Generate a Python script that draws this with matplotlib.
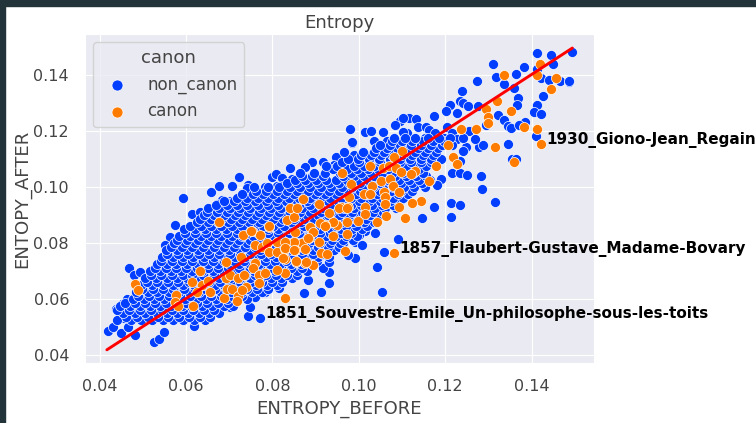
import matplotlib
matplotlib.use('Agg')
import matplotlib.pyplot as plt
from matplotlib.patches import Rectangle
import seaborn as sns

# Data ------------------------------------------------------------------------

# Dense part of the cloud, one row per ENTROPY_AFTER level

non_canon_rows = [
    (0.0525, [.0440, .0472, .0497, .0521, .0548, .0571, .0594, .0618, .0643]),
    (0.0538, [.0462, .0487, .0511, .0536, .0559, .0583, .0607, .0632, .0656]),
    (0.0550, [.0455, .0482, .0506, .0533, .0555, .0579, .0604, .0629, .0653, .0676]),
    (0.0563, [.0441, .0469, .0494, .0519, .0544, .0568, .0592, .0616, .0641, .0665]),
    (0.0575, [.0447, .0470, .0493, .0516, .0541, .0566, .0591, .0612, .0637, .0661, .0687, .0709]),
    (0.0588, [.0459, .0482, .0506, .0529, .0553, .0578, .0601, .0626, .0649, .0674, .0698]),
    (0.0600, [.0478, .0502, .0526, .0549, .0574, .0598, .0623, .0647, .0670, .0695, .0719, .0741]),
    (0.0612, [.0490, .0514, .0537, .0561, .0586, .0610, .0635, .0658, .0682, .0707, .0730]),
    (0.0625, [.0485, .0511, .0534, .0560, .0583, .0608, .0631, .0657, .0680, .0704, .0729, .0752, .0776]),
    (0.0638, [.0499, .0523, .0547, .0571, .0595, .0620, .0644, .0668, .0692, .0716, .0741, .0764, .0789]),
    (0.0650, [.0497, .0522, .0546, .0569, .0593, .0619, .0642, .0667, .0689, .0714, .0738, .0763, .0787, .0810]),
    (0.0663, [.0509, .0534, .0558, .0581, .0606, .0630, .0654, .0678, .0702, .0726, .0751, .0775, .0799, .0823]),
    (0.0675, [.0505, .0531, .0555, .0580, .0603, .0628, .0652, .0676, .0701, .0724, .0749, .0773, .0797, .0821, .0846]),
    (0.0688, [.0519, .0543, .0567, .0592, .0615, .0640, .0664, .0688, .0712, .0736, .0760, .0785, .0809, .0833, .0857]),
    (0.0700, [.0516, .0541, .0566, .0589, .0614, .0638, .0663, .0686, .0711, .0735, .0758, .0783, .0807, .0831, .0856, .0880]),
    (0.0712, [.0528, .0553, .0577, .0601, .0626, .0650, .0674, .0698, .0723, .0747, .0771, .0795, .0819, .0843, .0868]),
    (0.0725, [.0532, .0555, .0578, .0602, .0627, .0650, .0674, .0699, .0722, .0747, .0770, .0795, .0818, .0843, .0866, .0892]),
    (0.0737, [.0543, .0567, .0591, .0615, .0639, .0663, .0687, .0711, .0735, .0759, .0783, .0807, .0831, .0855, .0879, .0903]),
    (0.0750, [.0545, .0569, .0592, .0617, .0641, .0664, .0689, .0713, .0736, .0761, .0785, .0808, .0833, .0857, .0880, .0905, .0931]),
    (0.0763, [.0557, .0581, .0605, .0629, .0653, .0677, .0701, .0725, .0749, .0773, .0797, .0821, .0845, .0869, .0893, .0917]),
    (0.0775, [.0553, .0580, .0603, .0628, .0652, .0676, .0699, .0724, .0748, .0772, .0797, .0820, .0844, .0868, .0893, .0917, .0942]),
    (0.0788, [.0566, .0591, .0615, .0640, .0664, .0688, .0711, .0736, .0760, .0784, .0809, .0832, .0856, .0880, .0905, .0929, .0953]),
    (0.0800, [.0572, .0597, .0620, .0645, .0669, .0692, .0716, .0741, .0765, .0788, .0813, .0837, .0860, .0885, .0910, .0933, .0957]),
    (0.0813, [.0579, .0603, .0627, .0651, .0675, .0699, .0723, .0747, .0771, .0795, .0819, .0843, .0867, .0891, .0915, .0939, .0963, .0987]),
    (0.0825, [.0585, .0610, .0634, .0658, .0682, .0707, .0730, .0755, .0779, .0803, .0826, .0851, .0875, .0899, .0924, .0947, .0970, .0995]),
    (0.0838, [.0598, .0622, .0646, .0670, .0694, .0718, .0742, .0766, .0790, .0814, .0838, .0862, .0886, .0910, .0934, .0958, .0982]),
    (0.0850, [.0596, .0621, .0645, .0669, .0693, .0718, .0742, .0765, .0790, .0814, .0838, .0862, .0887, .0910, .0935, .0958, .0983, .1008]),
    (0.0863, [.0610, .0634, .0658, .0682, .0706, .0730, .0754, .0778, .0802, .0826, .0850, .0874, .0898, .0922, .0946, .0970, .0994, .1018]),
    (0.0875, [.0625, .0650, .0673, .0698, .0722, .0745, .0770, .0794, .0818, .0842, .0866, .0890, .0914, .0938, .0962, .0987, .1011, .1034]),
    (0.0888, [.0633, .0657, .0681, .0705, .0729, .0753, .0777, .0801, .0825, .0849, .0873, .0897, .0921, .0945, .0969, .0993, .1017, .1041]),
    (0.0900, [.0641, .0664, .0689, .0713, .0737, .0761, .0785, .0809, .0832, .0857, .0881, .0905, .0929, .0954, .0977, .1001, .1026, .1049]),
    (0.0913, [.0648, .0672, .0696, .0720, .0744, .0768, .0792, .0816, .0840, .0864, .0888, .0912, .0936, .0960, .0984, .1008, .1032, .1056]),
    (0.0925, [.0652, .0677, .0701, .0725, .0749, .0773, .0797, .0821, .0845, .0869, .0893, .0917, .0941, .0965, .0989, .1013, .1037, .1061, .1086]),
    (0.0938, [.0670, .0694, .0718, .0742, .0766, .0790, .0814, .0838, .0862, .0886, .0910, .0934, .0958, .0982, .1006, .1030, .1054, .1078]),
    (0.0950, [.0688, .0712, .0736, .0760, .0784, .0808, .0832, .0856, .0880, .0904, .0928, .0952, .0976, .1000, .1024, .1048, .1072, .1096]),
    (0.0963, [.0718, .0742, .0766, .0790, .0814, .0838, .0862, .0886, .0910, .0934, .0958, .0982, .1006, .1030, .1054, .1078, .1102]),
    (0.0975, [.0730, .0754, .0778, .0802, .0826, .0850, .0874, .0898, .0922, .0946, .0970, .0994, .1018, .1042, .1066, .1090, .1114]),
    (0.0988, [.0762, .0786, .0810, .0834, .0858, .0882, .0906, .0930, .0954, .0978, .1002, .1026, .1050, .1074, .1098, .1122]),
    (0.1000, [.0757, .0789, .0816, .0840, .0864, .0888, .0912, .0936, .0960, .0984, .1008, .1032, .1056, .1080, .1104, .1128, .1152]),
    (0.1013, [.0834, .0858, .0882, .0906, .0930, .0954, .0978, .1002, .1026, .1050, .1074, .1098, .1122, .1146]),
    (0.1025, [.0852, .0876, .0900, .0924, .0948, .0972, .0996, .1020, .1044, .1068, .1092, .1116, .1140, .1164]),
    (0.1038, [.0868, .0892, .0916, .0964, .0988, .1012, .1036, .1060, .1084, .1108, .1132, .1156]),
    (0.1050, [.0864, .0896, .0921, .0957, .0981, .1005, .1029, .1053, .1077, .1101, .1125, .1149]),
    (0.1063, [.0940, .0972, .0996, .1020, .1044, .1068, .1092, .1116, .1140]),
    (0.1075, [.0925, .0950, .0988, .1012, .1036, .1060, .1084, .1108, .1132, .1156]),
    (0.1088, [.0962, .1000, .1024, .1048, .1072, .1096, .1120, .1144, .1168]),
    (0.1100, [.0975, .0999, .1023, .1047, .1071, .1095, .1119, .1143, .1167, .1191]),
    (0.1113, [.1004, .1028, .1052, .1076, .1100, .1124, .1148, .1172]),
    (0.1125, [.0965, .1010, .1034, .1058, .1082, .1106, .1130, .1154, .1178]),
    (0.1138, [.1040, .1064, .1088, .1112, .1136, .1160, .1184]),
    (0.1150, [.1048, .1072, .1096, .1120, .1144, .1168, .1192, .1216]),
    (0.1163, [.1076, .1100, .1124, .1148, .1172, .1198]),
    (0.1175, [.1082, .1106, .1130, .1160, .1186, .1210, .1240]),
]

# Single points around the edge of the cloud

non_canon_x = [
    .1413, .1444, .1494, .1449, .1311, .1383, .1363, .1317, .1412, .1421, .1441, .1466, .1486, .1486,
    .1273, .1336, .1360, .1238, .1425, .1369, .1235, .1242, .1252, .1275, .1212, .1201, .1227, .1366,
    .1412, .1406, .1421, .1321, .1335, .1173, .1346, .1352, .1385, .1371, .1293, .1410, .1346, .1278,
    .1288, .1248, .1240, .1354, .1364, .1234, .1216, .1234, .1250, .1282, .1191, .1180, .1285, .1315,
    .1214, .1235, .1174, .0980, .1015, .1028, .1056, .0984, .1035, .1065, .1096, .1084, .1117, .1132,
    .1102, .1136, .1156, .1162, .1205, .1177, .1111, .1103, .1154, .1196, .1215, .1227, .1254, .1269,
    .0419, .0432, .0450, .0467, .0482, .0438, .0451, .0463, .0457, .0469, .0480, .0494, .0526, .0538,
    .0549, .0619, .0744, .0748, .0771, .0702, .0760, .0783, .0816, .0575, .0562, .0552, .0536, .0613,
    .0635, .0606, .0626, .0592, .0658, .0677, .0707, .0723, .0744, .0741, .0841, .0800, .0809, .0822,
    .0845, .0783, .0764, .0810, .0823, .0845, .0764, .0806, .0787, .0702, .0683, .0671, .0692, .0633,
    .0733, .0891, .0875, .0918, .0947, .0943, .0989, .0984, .0873, .0912, .1053, .0930, .0883, .1042,
    .1058, .1090, .0930, .0917, .0930, .0991, .0976, .0991, .1007, .1038, .1015, .1001, .1145, .1214,
    .0964,
]
non_canon_y = [
    .1479, .1471, .1481, .1439, .1438, .1428, .1402, .1392, .1421, .1388, .1382, .1379, .1374, .1379,
    .1379, .1367, .1353, .1342, .1324, .1317, .1308, .1299, .1289, .1291, .1294, .1272, .1266, .1294,
    .1292, .1269, .1260, .1257, .1239, .1255, .1217, .1210, .1231, .1223, .1221, .1183, .1154, .1144,
    .1152, .1142, .1129, .1100, .1099, .1093, .1050, .1050, .1042, .1041, .1029, .1008, .0994, .0948,
    .0945, .0936, .0928, .1209, .1197, .1199, .1197, .1159, .1166, .1166, .1237, .1222, .1246, .1242,
    .1245, .1213, .1216, .1202, .1213, .1194, .1192, .1197, .1176, .1174, .1192, .1171, .1201, .1171,
    .0486, .0500, .0479, .0503, .0474, .0566, .0584, .0600, .0533, .0712, .0685, .0698, .0448, .0458,
    .0484, .0505, .0541, .0574, .0533, .0572, .0607, .0627, .0640, .0865, .0824, .0794, .0723, .0904,
    .0909, .0847, .0869, .0960, .0983, .1005, .1005, .1035, .1008, .0998, .1067, .1035, .1046, .1032,
    .1028, .1002, .0984, .1004, .1004, .0992, .0960, .0948, .0972, .0951, .0954, .0940, .0947, .0913,
    .0937, .1089, .1071, .1089, .1109, .1079, .1115, .1160, .0622, .0627, .0626, .0657, .0669, .0717,
    .0769, .0814, .0699, .0712, .0734, .0747, .0758, .0804, .0794, .0838, .0844, .0830, .0889, .0895,
    .0800,
]

canon_x = [
    .1420, .1336, .1413, .1457, .1444, .1320, .1293, .1299, .1298, .1353, .1270, .1237, .1383, .1411,
    .1421, .1316, .1206, .1218, .1226, .1360, .1178, .1099, .1082, .1026, .0961, .1055, .1069, .1086,
    .1097, .1130, .1121, .1163, .1051, .1072, .1031, .1078, .0982, .1092, .1057, .1011, .1025, .1061,
    .1144, .1124, .0978, .0870, .0908, .1015, .1061, .1094, .0974, .0958, .1082, .1107, .1063, .1042,
    .0997, .1015, .0972, .0949, .0940, .0922, .0910, .0972, .0940, .0892, .0885, .0908, .0868, .0876,
    .0913, .0926, .0969, .0876, .0894, .0481, .0489, .0632, .0614, .0577, .0575, .0582, .0616, .0637,
    .0650, .0656, .0625, .0687, .0694, .0706, .0721, .0718, .0739, .0729, .0692, .0702, .0721, .0735,
    .0693, .0728, .0760, .0756, .0770, .0768, .0783, .0828, .0810, .0828, .0829, .0855, .0677, .0733,
    .0752, .0772, .0793, .0760, .0775, .0787, .0791, .0810, .0829, .0849, .0853, .0833, .0849, .0841,
    .0856, .0792, .0751, .0810, .0829, .0853, .0829, .0851, .0887, .0893, .0883, .0922, .0953, .0972,
    .0930, .0825, .0854, .0877,
]
canon_y = [
    .1438, .1400, .1399, .1388, .1349, .1308, .1279, .1251, .1230, .1270, .1206, .1206, .1213, .1209,
    .1154, .1144, .1152, .1108, .1084, .1089, .1074, .1130, .1109, .1077, .1051, .1067, .1077, .1070,
    .1053, .1058, .1047, .1022, .1022, .1029, .1004, .1003, .1011, .0983, .0984, .0976, .0975, .0966,
    .0951, .0943, .0964, .0958, .0941, .0928, .0939, .0928, .0928, .0928, .0764, .0890, .0896, .0876,
    .0881, .0904, .0877, .0865, .0877, .0864, .0871, .0832, .0826, .0843, .0819, .0806, .0800, .0780,
    .0764, .0762, .0774, .0731, .0722, .0655, .0632, .0702, .0662, .0617, .0592, .0576, .0578, .0652,
    .0666, .0627, .0627, .0605, .0637, .0636, .0612, .0595, .0643, .0634, .0675, .0687, .0675, .0687,
    .0734, .0752, .0731, .0711, .0687, .0657, .0693, .0693, .0705, .0744, .0605, .0734, .0877, .0830,
    .0844, .0830, .0859, .0794, .0788, .0800, .0770, .0770, .0780, .0806, .0776, .0883, .0895, .0927,
    .0927, .0862, .0845, .0806, .0806, .0841, .0783, .0776, .0859, .0841, .0818, .0862, .0926, .0926,
    .0909, .0747, .0737, .0734,
]

line_x = [0.0417, 0.1494]
line_y = [0.0420, 0.1496]

label_names = ['1930_Giono-Jean_Regain', '1857_Flaubert-Gustave_Madame-Bovary', '1851_Souvestre-Emile_Un-philosophe-sous-les-toits']
label_x = [.1421, .1082, .0771]
label_y = [.1154, .0764, .0533]

# Expanding the rows into x and y

for row_y, row_xs in non_canon_rows:
    for row_x in row_xs:
        non_canon_x.append(row_x)
        non_canon_y.append(row_y)

# Graphing the data -----------------------------------------------------------

sns.set_style('darkgrid')

fig = plt.figure(figsize = (7.56, 4.23), dpi = 100)
fig.patches.append(Rectangle((0, 0), 5 / 756, 1, transform = fig.transFigure, color = '#22343a', zorder = 5))
fig.patches.append(Rectangle((0, 1 - 6 / 423), 1, 6 / 423, transform = fig.transFigure, color = '#22343a', zorder = 5))

ax = fig.add_axes([85 / 756, 1 - 363 / 423, 509 / 756, 329 / 423])

ax.scatter(non_canon_x, non_canon_y, s = 52, color = '#023eff', edgecolor = 'white', linewidth = 0.5, label = 'non_canon')
ax.scatter(canon_x, canon_y, s = 52, color = '#ff7c00', edgecolor = 'white', linewidth = 0.5, label = 'canon')
ax.plot(line_x, line_y, color = 'red', linewidth = 2.1)

for name, x, y in zip(label_names, label_x, label_y):
    ax.text(x + 0.0012, y, name, fontsize = 10.95, fontweight = 'bold', color = 'black')

ax.set_xlim(0.03664, 0.1544)
ax.set_ylim(0.0373, 0.1546)
ax.set_xticks([0.04, 0.06, 0.08, 0.10, 0.12, 0.14])
ax.set_xticklabels(['0.04', '0.06', '0.08', '0.10', '0.12', '0.14'])
ax.set_yticks([0.04, 0.06, 0.08, 0.10, 0.12, 0.14])
ax.set_yticklabels(['0.04', '0.06', '0.08', '0.10', '0.12', '0.14'])
ax.tick_params(labelsize = 11.5, pad = 8, labelcolor = '#444444')

ax.set_xlabel('ENTROPY_BEFORE', fontsize = 13.1, color = '#444444', labelpad = 4.5)
ax.set_ylabel('ENTOPY_AFTER', fontsize = 13.1, color = '#444444', labelpad = 1.5)
ax.set_title('Entropy', fontsize = 13.1, color = '#444444', pad = 4.5)

legend = ax.legend(title = 'canon', loc = 'upper left', fontsize = 12.1, title_fontsize = 13.1, borderpad = 0.4,
                   handletextpad = 0.8, bbox_to_anchor = (0.0, 1.0), markerscale = 1.1, labelcolor = '#444444')
legend.get_title().set_color('#444444')

plt.savefig('out.png', dpi = 100)
